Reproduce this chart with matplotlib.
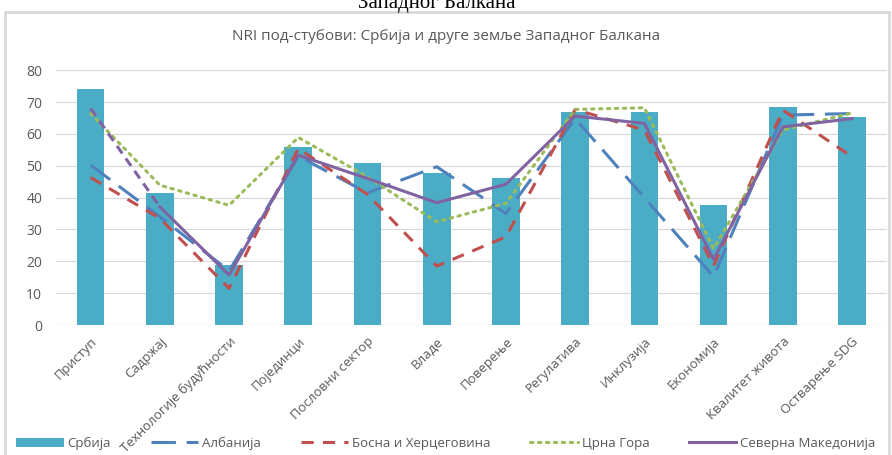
import matplotlib.pyplot as plt
import numpy as np
from matplotlib.patches import Rectangle

plt.rcParams['font.family'] = ['Open Sans', 'DejaVu Sans']

categories = ['Приступ', 'Садржај', 'Технологије будућности', 'Појединци',
              'Пословни сектор', 'Владе', 'Поверење', 'Регулатива',
              'Инклузија', 'Економија', 'Квалитет живота', 'Остварење SDG']

srbija = [74.0, 41.6, 18.8, 55.8, 50.8, 47.7, 46.0, 66.8, 66.8, 37.6, 68.3, 65.2]
albanija = [50.2, 34.0, 17.0, 53.0, 41.5, 49.7, 35.0, 64.8, 40.0, 15.2, 65.9, 66.4]
bih = [46.3, 33.5, 11.5, 55.4, 41.0, 18.5, 27.7, 67.7, 61.2, 18.6, 67.5, 52.8]
crna_gora = [66.4, 43.9, 37.6, 58.9, 46.5, 32.4, 38.2, 67.7, 68.2, 24.0, 61.2, 66.6]
makedonija = [68.0, 37.1, 15.7, 53.3, 46.0, 38.4, 44.2, 65.6, 63.3, 20.6, 62.2, 64.8]

yticks = [0, 10, 20, 30, 40, 50, 60, 70, 80]

fig = plt.figure(figsize=(8.92, 4.55), dpi=100)
ax = fig.add_axes([0.0628, 0.2857, 0.9312, 0.560])

x = np.arange(len(categories))
gray = '#595959'

b = ax.bar(x, srbija, width=0.4, color='#4BACC6', label='Србија', zorder=2)
l1, = ax.plot(x, albanija, color='#4F81BD', lw=2.2, dashes=(8, 3.5), label='Албанија', zorder=3)
l2, = ax.plot(x, bih, color='#C0504D', lw=2.2, dashes=(4, 3), label='Босна и Херцеговина', zorder=3)
l3, = ax.plot(x, crna_gora, color='#9BBB59', lw=2.2, dashes=(0.8, 1.8), dash_capstyle='round',
              label='Црна Гора', zorder=3)
l4, = ax.plot(x[1:], makedonija[1:], color='#8064A2', lw=2.2, label='Северна Македонија', zorder=3)
ax.plot(x[:2], makedonija[:2], color='#8064A2', lw=2.2, dashes=(3, 2), zorder=3)

ax.set_xlim(-0.5, len(categories) - 0.5)
ax.set_ylim(0, 80)
ax.set_yticks(yticks)
ax.set_xticks(x)
ax.set_xticklabels(categories, rotation=45, ha='right', rotation_mode='anchor',
                   fontsize=9.5, color=gray)
ax.tick_params(axis='y', labelsize=10, colors=gray, length=0, pad=10)
ax.tick_params(axis='x', length=0, pad=7)
ax.grid(axis='y', color='#D9D9D9', lw=0.9, zorder=0)
for s in ax.spines.values():
    s.set_visible(False)

fig.text(0.5, 0.919, 'NRI под-стубови: Србија и друге земље Западног Балкана',
         ha='center', va='center', fontsize=11, color=gray)

# cut-off document heading above the chart
fig.text(0.49, 1 - 8 / 455, 'Западног Балкана', ha='center', va='baseline',
         fontsize=15, family=['Liberation Serif', 'DejaVu Serif'], color='black')

fig.patches.append(Rectangle((5 / 892, -0.05), 884 / 892, 1.05 - 12 / 455,
                             transform=fig.transFigure, fill=False,
                             edgecolor='#D9D9D9', lw=2))

fig.legend([b, l1, l2, l3, l4],
           ['Србија', 'Албанија', 'Босна и Херцеговина', 'Црна Гора', 'Северна Македонија'],
           loc='center', bbox_to_anchor=(0.5, 0.026), ncol=5, frameon=False,
           fontsize=9.5, handlelength=3.6, handletextpad=0.3, columnspacing=3.0,
           labelcolor=gray)

fig.savefig('out.png', dpi=100)
